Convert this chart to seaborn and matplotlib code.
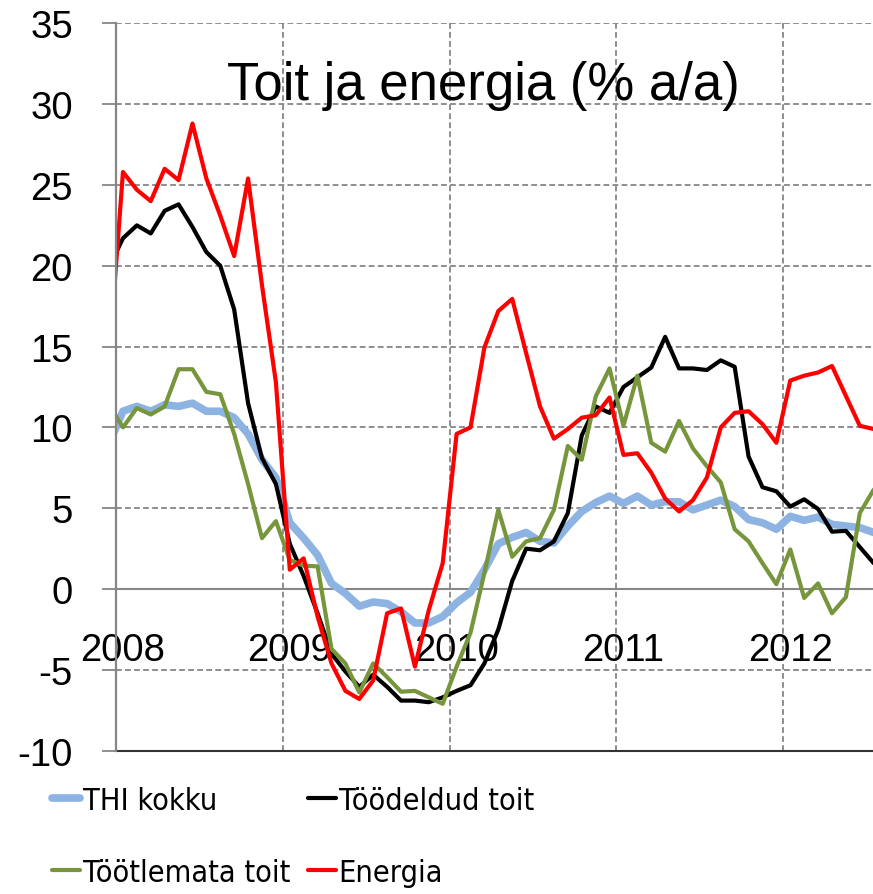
import numpy as np
import pandas as pd
import matplotlib
matplotlib.use("Agg")
import matplotlib.pyplot as plt
import matplotlib.transforms as mtrans
from matplotlib.font_manager import FontProperties
import seaborn as sns

# Monthly points (Dec 2007 .. Jul 2012), positioned at mid-month
months = list(range(-1, 55))

thi_kokku = [9.0, 11.0, 11.3, 11.0, 11.4, 11.3, 11.5, 11.0, 11.0, 10.6, 9.6,
             8.0, 6.9, 4.1, 3.15, 2.1, 0.35, -0.27, -1.06, -0.8, -0.9,
             -1.4, -2.1, -2.1, -1.7, -0.85, -0.2, 1.2, 2.8, 3.2, 3.5,
             2.95, 2.85, 3.9, 4.8, 5.35, 5.75, 5.3, 5.75, 5.2, 5.4,
             5.4, 4.9, 5.2, 5.5, 5.1, 4.3, 4.1, 3.7, 4.5, 4.25,
             4.45, 4.0, 3.9, 3.8, 3.5]

toodeldud = [19.9, 21.7, 22.5, 22.0, 23.4, 23.8, 22.4, 20.85, 20.0, 17.3, 11.5,
             8.1, 6.5, 2.8, 0.8, -1.5, -4.0, -5.1, -6.05, -5.3, -6.05,
             -6.9, -6.9, -7.0, -6.7, -6.3, -5.95, -4.6, -2.5, 0.5, 2.5,
             2.4, 2.95, 4.7, 9.5, 11.3, 10.9, 12.5, 13.1, 13.7, 15.6,
             13.65, 13.65, 13.55, 14.15, 13.75, 8.2, 6.3, 6.05, 5.1, 5.55,
             4.95, 3.55, 3.6, 2.6, 1.6]

tootlemata = [11.4, 10.0, 11.2, 10.8, 11.3, 13.6, 13.6, 12.2, 12.05, 9.6, 6.5,
              3.15, 4.2, 1.8, 1.45, 1.4, -3.7, -4.6, -6.4, -4.6, -5.45,
              -6.35, -6.3, -6.7, -7.1, -4.8, -2.7, 1.0, 4.9, 2.0, 2.95,
              3.15, 4.9, 8.85, 8.0, 11.9, 13.65, 10.1, 13.2, 9.05, 8.5,
              10.4, 8.7, 7.6, 6.6, 3.7, 2.95, 1.6, 0.3, 2.45, -0.55,
              0.35, -1.5, -0.5, 4.7, 6.15]

energia = [14.2, 25.8, 24.7, 24.0, 26.0, 25.3, 28.8, 25.4, 23.1, 20.6, 25.4,
           18.8, 12.8, 1.2, 1.9, -1.7, -4.6, -6.3, -6.8, -5.65, -1.5,
           -1.2, -4.8, -1.3, 1.6, 9.6, 10.0, 14.95, 17.2, 17.95, 14.6,
           11.3, 9.3, 9.9, 10.6, 10.75, 11.85, 8.3, 8.4, 7.2, 5.6,
           4.8, 5.5, 6.9, 10.0, 10.9, 11.0, 10.2, 9.05, 12.9, 13.2,
           13.4, 13.8, 11.95, 10.1, 9.9]

year_labels = ["2008", "2009", "2010", "2011", "2012"]
year_starts = [0, 12, 24, 36, 48]
y_ticks = [-10, -5, 0, 5, 10, 15, 20, 25, 30, 35]
title = "Toit ja energia (% a/a)"

series_names = ["THI kokku", "Töödeldud toit", "Töötlemata toit", "Energia"]
series_vals = [thi_kokku, toodeldud, tootlemata, energia]
colors = ["#8DB3E2", "#000000", "#77963C", "#FF0000"]
widths = [5.5, 3.0, 3.0, 3.0]

sns.set_theme(style="white")
plt.rcParams['font.family'] = ['Liberation Sans', 'DejaVu Sans']
plt.rcParams['text.color'] = 'black'

fig = plt.figure(figsize=(8.73, 8.95), dpi=100)
ax = fig.add_axes([116 / 873, 1 - 751.7 / 895, 1 - 116 / 873, (751.7 - 24.3) / 895])

x = np.array(months) + 0.5
handles = {}
for name, vals, c, w in zip(series_names, series_vals, colors, widths):
    df = pd.DataFrame({"m": x, "v": vals})
    sns.lineplot(data=df, x="m", y="v", ax=ax, color=c, linewidth=w,
                 label=name, legend=False)
    handles[name] = ax.lines[-1]

ax.set_xlim(0, 54.45)
ax.set_ylim(-10, 35)

grid_kw = dict(color="#868686", linewidth=1.3, linestyle=(0, (3.2, 1.8)), zorder=0)
for yv in y_ticks:
    if yv in (0, -10):
        continue
    ax.axhline(yv, **grid_kw)
for xv in year_starts[1:]:
    ax.axvline(xv, **grid_kw)

ax.axhline(0, color="#868686", linewidth=1.5, zorder=0.5)
ax.axhline(-10, color="#333333", linewidth=1.5, zorder=0.5, clip_on=False)

for s in ["top", "right", "bottom"]:
    ax.spines[s].set_visible(False)
ax.spines["left"].set_color("#868686")
ax.spines["left"].set_linewidth(1.6)

ax.set_yticks(y_ticks, labels=[str(v) for v in y_ticks])
ax.tick_params(axis="y", direction="out", length=10, width=1.3, color="#868686",
               pad=21, labelsize=27.5, labelcolor="black", left=True)
ax.set_xticks([])
ax.set_xlabel("")
ax.set_ylabel("")

# year labels centred on the January points, just under the zero line
lab_tr = mtrans.offset_copy(ax.transData, fig=fig, x=0, y=-43, units="dots")
for xv, lab in zip(year_starts, year_labels):
    ax.text(xv + 0.5, 0, lab, fontsize=27.5, ha="center", va="top", color="black",
            transform=lab_tr, clip_on=False, zorder=1)

fig.text(483 / 873, 1 - 100 / 895, title, ha="center", va="baseline",
         fontsize=38, color="black")

leg_font = FontProperties(family="DejaVu Sans", stretch="condensed", size=22)
leg_kw = dict(loc="center left", frameon=False, borderpad=0, borderaxespad=0,
              handlelength=0.9, handletextpad=0.1, labelspacing=1.41, prop=leg_font,
              labelcolor="black")
fig.legend([handles["THI kokku"], handles["Töötlemata toit"]],
           ["THI kokku", "Töötlemata toit"],
           bbox_to_anchor=(52 / 873, 1 - 837.5 / 895), **leg_kw)
fig.legend([handles["Töödeldud toit"], handles["Energia"]],
           ["Töödeldud toit", "Energia"],
           bbox_to_anchor=(308 / 873, 1 - 837.5 / 895), **leg_kw)

fig.savefig("out.png", dpi=100)
